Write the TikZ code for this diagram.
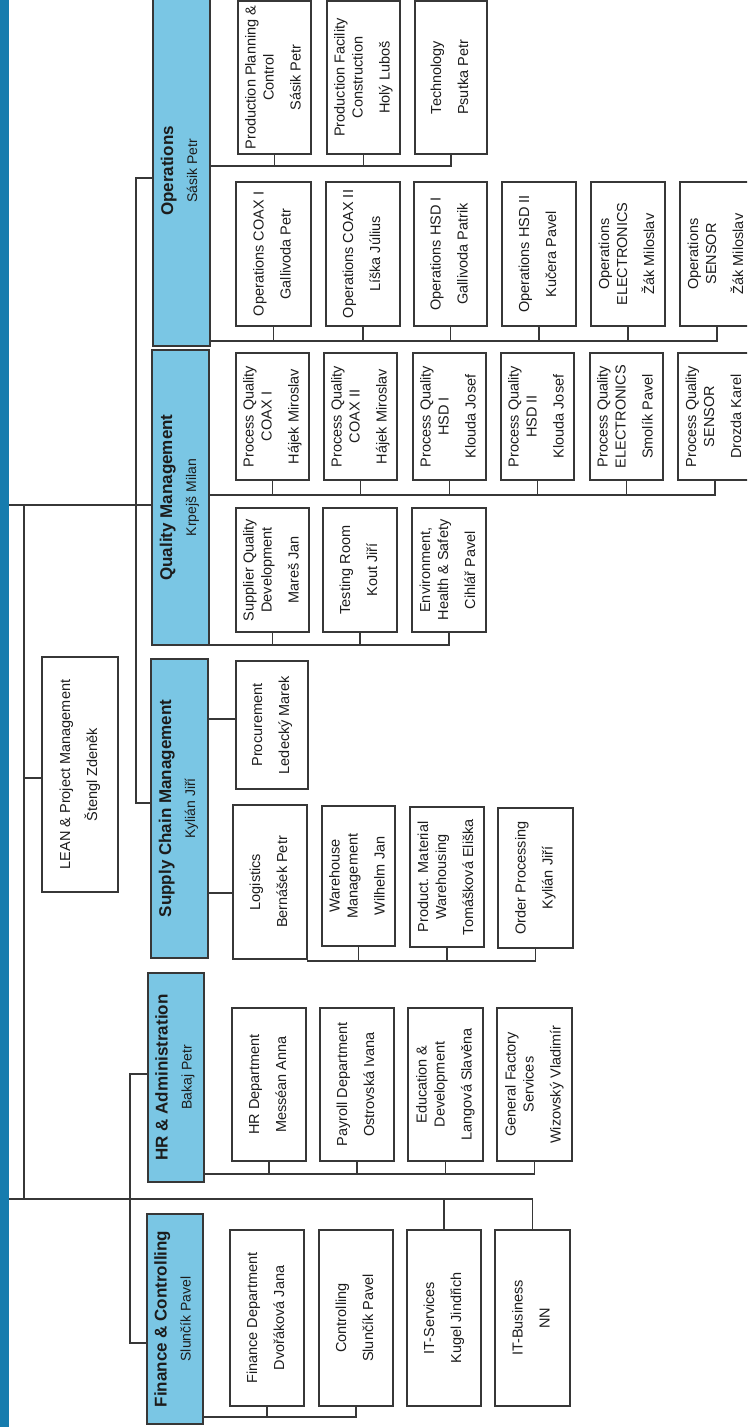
\documentclass[tikz,border=0pt]{standalone}
\usepackage{fontspec}
\setmainfont{Liberation Sans}
\usepackage{graphicx}
\definecolor{stripc}{RGB}{22,124,174}
\definecolor{headc}{RGB}{122,198,228}
\definecolor{linec}{RGB}{55,55,55}
\definecolor{textc}{RGB}{28,28,28}
\newcommand{\boxtext}[2]{\rotatebox{90}{\begin{tabular}{@{}c@{}}#1\\[9pt]#2\end{tabular}}}
\newcommand{\headtext}[2]{\rotatebox{90}{\begin{tabular}{@{}c@{}}{\fontsize{17}{20}\selectfont\bfseries #1}\\[6pt]{\fontsize{14}{16}\selectfont #2}\end{tabular}}}
\newcommand{\orgbox}[7]{\node[cbox, minimum width={#3-#2}, minimum height={#5-#4}] (#1) at ({(#2+#3)/2},{(#4+#5)/2}) {\boxtext{#6}{#7}};}
\newcommand{\headbox}[7]{\node[hbox, minimum width={#3-#2}, minimum height={#5-#4}] (#1) at ({(#2+#3)/2},{(#4+#5)/2}) {\headtext{#6}{#7}};}
\tikzset{
  cbox/.style={draw=linec, line width=1.1pt, fill=white, inner sep=0pt, text=textc, font=\fontsize{14.5}{18}\selectfont},
  hbox/.style={draw=linec, line width=1.1pt, fill=headc, inner sep=0pt, text=textc, font=\fontsize{14.5}{18}\selectfont},
  conn/.style={draw=linec, line width=1.1pt, line cap=rect},
}
\begin{document}
\begin{tikzpicture}[x=1pt,y=-1pt]
\useasboundingbox (0,0) rectangle (747,1427);
\clip (0,0) rectangle (747,1427);
\fill[white] (0,0) rectangle (747,1427);
% top strip
\node[fill=stripc, inner sep=0pt, minimum width=9, minimum height=1440] (top) at (4.5,713.5) {};
% headers
\headbox{ops}{153}{210}{-4}{346}{Operations}{Sásik Petr}
\headbox{qual}{152}{209}{350}{645}{Quality Management}{Krpejš Milan}
\headbox{scm}{151}{208}{659}{958}{Supply Chain Management}{Kylián Jiří}
\headbox{hr}{148}{204}{973}{1182}{HR \& Administration}{Bakaj Petr}
\headbox{fin}{147}{203}{1214}{1424}{Finance \& Controlling}{Slunčík Pavel}
% LEAN
\orgbox{lean}{42}{118}{657}{892}{LEAN \& Project Management}{Štengl Zdeněk}
% operations row 1
\orgbox{ppc}{238}{311}{1}{154}{Production Planning \&\\Control}{Sásik Petr}
\orgbox{pfc}{327}{400}{1}{154}{Production Facility\\Construction}{Holý Luboš}
\orgbox{tech}{415}{487}{1}{154}{Technology}{Psutka Petr}
% operations row 2
\orgbox{oc1}{236}{311}{182}{326}{Operations COAX I}{Gallivoda Petr}
\orgbox{oc2}{326}{400}{182}{326}{Operations COAX II}{Líška Július}
\orgbox{oh1}{414}{487}{182}{326}{Operations HSD I}{Gallivoda Patrik}
\orgbox{oh2}{502}{576}{182}{326}{Operations HSD II}{Kučera Pavel}
\orgbox{oel}{591}{665}{182}{326}{Operations\\ELECTRONICS}{Žák Miloslav}
\orgbox{ose}{680}{754}{182}{326}{Operations\\SENSOR}{Žák Miloslav}
% quality row 1
\orgbox{pq1}{236}{309}{353}{480}{Process Quality\\COAX I}{Hájek Miroslav}
\orgbox{pq2}{324}{397}{353}{480}{Process Quality\\COAX II}{Hájek Miroslav}
\orgbox{pq3}{413}{486}{353}{480}{Process Quality\\HSD I}{Klouda Josef}
\orgbox{pq4}{501}{574}{353}{480}{Process Quality\\HSD II}{Klouda Josef}
\orgbox{pq5}{590}{663}{353}{480}{Process Quality\\ELECTRONICS}{Smolík Pavel}
\orgbox{pq6}{678}{752}{353}{480}{Process Quality\\SENSOR}{Drozda Karel}
% quality row 2
\orgbox{sqd}{236}{309}{508}{632}{Supplier Quality\\Development}{Mareš Jan}
\orgbox{tr}{323}{397}{508}{632}{Testing Room}{Kout Jiří}
\orgbox{ehs}{412}{486}{508}{632}{Environment,\\Health \& Safety}{Cihlář Pavel}
% supply chain
\orgbox{proc}{236}{308}{661}{789}{Procurement}{Ledecký Marek}
\orgbox{log}{233}{307}{805}{959}{Logistics}{Bernášek Petr}
\orgbox{wm}{322}{395}{806}{946}{Warehouse\\Management}{Wilhelm Jan}
\orgbox{pmw}{410}{484}{807}{947}{Product. Material\\Warehousing}{Tomášková Eliška}
\orgbox{op}{498}{573}{808}{948}{Order Processing}{Kylián Jiří}
% HR
\orgbox{hrd}{232}{306}{1008}{1161}{HR Department}{Messéan Anna}
\orgbox{pay}{320}{394}{1008}{1161}{Payroll Department}{Ostrovská Ivana}
\orgbox{edu}{408}{483}{1008}{1161}{Education \&\\Development}{Langová Slavěna}
\orgbox{gfs}{497}{572}{1008}{1161}{General Factory\\Services}{Wizovský Vladimír}
% finance
\orgbox{fd}{230}{304}{1230}{1406}{Finance Department}{Dvořáková Jana}
\orgbox{ctl}{319}{393}{1230}{1406}{Controlling}{Slunčík Pavel}
\orgbox{its}{407}{481}{1230}{1406}{IT-Services}{Kugel Jindřich}
\orgbox{itb}{495}{570}{1230}{1406}{IT-Business}{NN}
% junction coordinates
\coordinate (r1) at (9,505);
\coordinate (r2) at (9,1199);
\coordinate (v1t) at (136,178);
\coordinate (v1b) at (136,803);
\coordinate (v2t) at (24,505);
\coordinate (v2b) at (24,1199);
\coordinate (lj) at (24,778);
\coordinate (v3t) at (130,1074);
\coordinate (v3b) at (130,1343);
\coordinate (b1) at (0,166);
\coordinate (b2) at (0,341);
\coordinate (b3) at (0,495);
\coordinate (b4) at (0,645);
\coordinate (b5) at (0,719);
\coordinate (b6) at (0,893);
\coordinate (b7) at (0,961);
\coordinate (b8) at (0,1174);
\coordinate (b9) at (0,1417);
% root connections
\draw[conn] (top.east |- r1) -- (qual.west |- r1);
\draw[conn] (ops.west |- v1t) -- (v1t) -- (v1b) -- (scm.west |- v1b);
\draw[conn] (v2t) -- (v2b);
\draw[conn] (lj) -- (lean.west |- lj);
\draw[conn] (hr.west |- v3t) -- (v3t) -- (v3b) -- (fin.west |- v3b);
\draw[conn] (top.east |- r2) -- (itb.north |- r2) -- (itb.north);
\draw[conn] (its.north |- r2) -- (its.north);
% operations
\draw[conn] (ops.east |- b1) -- (tech.south |- b1) -- (tech.south);
\foreach \n in {ppc,pfc} \draw[conn] (\n.south) -- (\n.south |- b1);
\draw[conn] (ops.east |- b2) -- (ose.south |- b2) -- (ose.south);
\foreach \n in {oc1,oc2,oh1,oh2,oel} \draw[conn] (\n.south) -- (\n.south |- b2);
% quality
\draw[conn] (qual.east |- b3) -- (pq6.south |- b3) -- (pq6.south);
\foreach \n in {pq1,pq2,pq3,pq4,pq5} \draw[conn] (\n.south) -- (\n.south |- b3);
\draw[conn] (qual.east |- b4) -- (ehs.south |- b4) -- (ehs.south);
\foreach \n in {sqd,tr} \draw[conn] (\n.south) -- (\n.south |- b4);
% supply chain
\draw[conn] (scm.east |- b5) -- (proc.west |- b5);
\draw[conn] (scm.east |- b6) -- (log.west |- b6);
\draw[conn] (log.south east |- b7) -- (op.south |- b7) -- (op.south);
\foreach \n in {wm,pmw} \draw[conn] (\n.south) -- (\n.south |- b7);
% HR
\draw[conn] (hr.east |- b8) -- (gfs.south |- b8) -- (gfs.south);
\foreach \n in {hrd,pay,edu} \draw[conn] (\n.south) -- (\n.south |- b8);
% finance
\draw[conn] (fin.east |- b9) -- (ctl.south |- b9) -- (ctl.south);
\draw[conn] (fd.south) -- (fd.south |- b9);
\end{tikzpicture}
\end{document}
